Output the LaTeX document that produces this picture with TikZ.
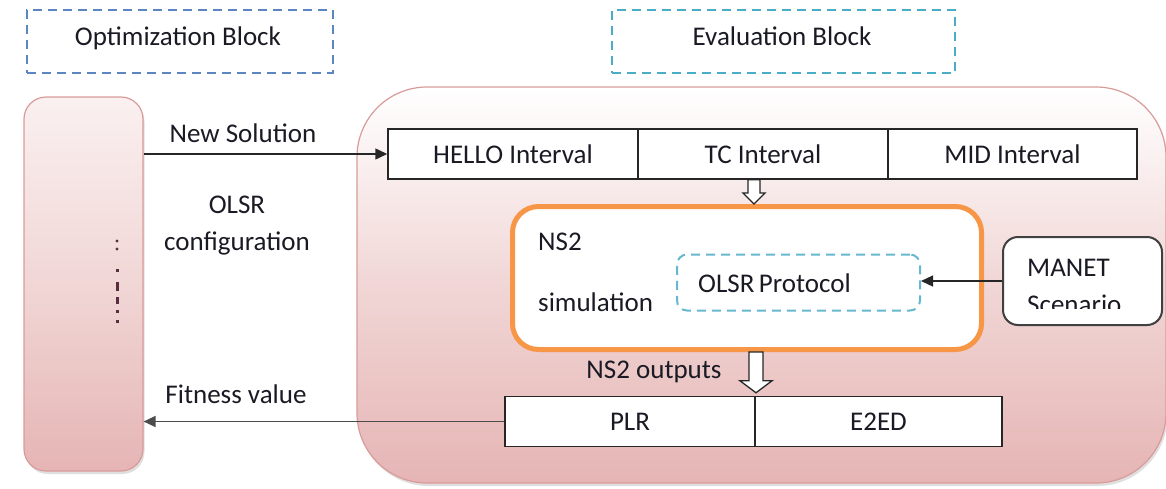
\documentclass[tikz,border=0pt]{standalone}
\usepackage{fontspec}
\setmainfont{Carlito}
\usetikzlibrary{arrows.meta,shadows,calc}

\definecolor{optdash}{HTML}{5B86C2}
\definecolor{evaldash}{HTML}{4BACC6}
\definecolor{pinkfill}{HTML}{E5B5B4}
\definecolor{pinkedge}{HTML}{D99B9A}
\definecolor{simorange}{HTML}{F79646}
\definecolor{txtdark}{HTML}{1A1A24}
\definecolor{dotclr}{HTML}{5A2E3E}

\begin{document}
\begin{tikzpicture}[x=1pt,y=-1pt,
  font=\fontsize{27}{32}\selectfont,
  every node/.style={text=txtdark},
  blocktag/.style={draw, dash pattern=on 9pt off 6pt, line width=1.6pt, inner sep=0},
  pinkpanel/.style={draw=pinkedge, line width=1.2pt, top color=white, bottom color=pinkfill,
    drop shadow={shadow xshift=1.5pt, shadow yshift=-3pt, opacity=0.25}, inner sep=0},
  cell/.style={draw=black!85, line width=1.5pt, fill=white, minimum height=50, inner sep=0},
  txt/.style={inner sep=0},
  flow/.style={draw=black!85, line width=1.5pt, -{Triangle[length=12pt,width=11pt]}},
  hollow/.style={draw=black!85, line width=1.3pt, fill=white, line join=miter}
]
\useasboundingbox (0,0) rectangle (1166,488);

% block tags
\node[blocktag, draw=optdash, minimum width=306, minimum height=63] (opttag) at (180,41.5) {};
\node[txt, anchor=base] (opttext) at (178,45) {Optimization Block};
\node[blocktag, draw=evaldash, minimum width=343, minimum height=63] (evaltag) at (783.5,41.5) {};
\node[txt, anchor=base] (evaltext) at (782,45) {Evaluation Block};

% panels
\node[pinkpanel, rounded corners=70, minimum width=809, minimum height=396, middle color=pinkfill!55] (evalbox) at (761.5,285) {};
\node[pinkpanel, rounded corners=22, minimum width=119, minimum height=374, top color=pinkfill!20, middle color=pinkfill!55] (optbox) at (83.5,284) {};

% vertical dots inside the optimisation panel
\fill[dotclr] (117,241) circle (1.7);
\fill[dotclr] (117,249) circle (1.7);
\draw[dotclr, line width=3pt, dash pattern=on 3pt off 10pt on 9pt off 6pt on 7pt off 6pt on 3pt off 7pt on 3pt] (117,269) -- (117,323);

% parameter row
\node[cell, minimum width=250] (hello) at (513,154) {HELLO Interval};
\node[cell, minimum width=250] (tc) at (763,154) {TC Interval};
\node[cell, minimum width=249] (mid) at (1012.5,154) {MID Interval};

% simulation box
\node[draw=simorange, line width=5pt, rounded corners=26, fill=white, minimum width=469, minimum height=143, inner sep=0] (ns2box) at (747,278) {};
\node[txt, anchor=base west] (ns2a) at (538,250) {NS2};
\node[txt, anchor=base west] (ns2b) at (538,311) {simulation};
\node[draw=evaldash!85, dash pattern=on 9pt off 6pt, line width=2pt, rounded corners=10, minimum width=243, minimum height=56, inner sep=0] (olsrbox) at (798.5,282.5) {};
\node[txt, anchor=base west] (olsrtext) at (698,292) {OLSR\,Protocol};

% scenario box
\node[draw=black!75, line width=2pt, rounded corners=15, fill=white, minimum width=159, minimum height=88, inner sep=0] (manet) at (1082.5,281) {};
\node[txt, anchor=base west] (manettext) at (1027,276) {MANET};
\begin{scope}
  \clip (1010,285) rectangle (1150,308.5);
  \node[txt, anchor=base west] (scentext) at (1027,313) {Scenario};
\end{scope}

% output row
\node[cell, minimum width=250] (plr) at (630,421.5) {PLR};
\node[cell, minimum width=247] (e2ed) at (878.5,421.5) {E2ED};

% connectors
\draw[flow] (optbox.east |- hello.west) -- (hello.west);
\draw[flow, draw=black!70] (plr.west) -- (optbox.east |- plr.west);
\draw[flow, line width=1.3pt] (manet.west) -- (manet.west -| olsrbox.east);

\coordinate (a1) at ($(tc.south)+(-9,0)$);
\coordinate (a2) at (a1 |- ns2box.north);
\draw[hollow] let \p1=(a1), \p2=(a2) in
  (\x1-6pt,\y1) -- (\x1-6pt,\y2+11pt) -- (\x1-11pt,\y2+11pt) -- (\x1,\y2)
  -- (\x1+11pt,\y2+11pt) -- (\x1+6pt,\y2+11pt) -- (\x1+6pt,\y1) -- cycle;

\coordinate (b1) at ($(ns2box.south)+(9,0)$);
\coordinate (b2) at ($(b1 |- plr.north)+(0,-3)$);
\draw[hollow] let \p1=(b1), \p2=(b2) in
  (\x1-7pt,\y1) -- (\x1-7pt,\y2+12pt) -- (\x1-16pt,\y2+12pt) -- (\x1,\y2)
  -- (\x1+16pt,\y2+12pt) -- (\x1+7pt,\y2+12pt) -- (\x1+7pt,\y1) -- cycle;

% labels
\node[txt, anchor=base] (newsol) at (243,142) {New Solution};
\node[txt, anchor=base] (cfg1) at (237,213) {OLSR};
\node[txt, anchor=base] (cfg2) at (237,250) {configuration};
\node[txt, anchor=base] (fit) at (236,403) {Fitness value};
\node[txt, anchor=base] (outs) at (654,378) {NS2 outputs};
\end{tikzpicture}
\end{document}
